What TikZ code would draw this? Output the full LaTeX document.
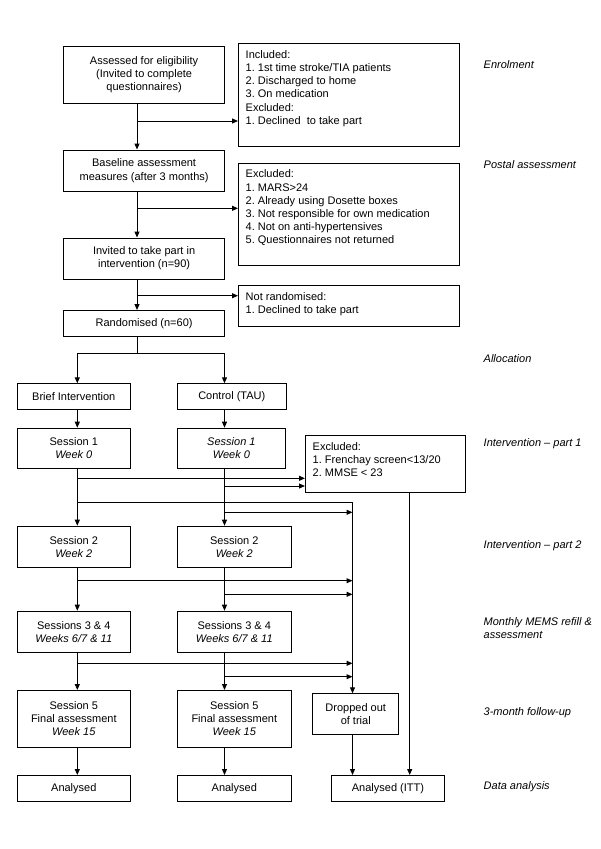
\documentclass[tikz,border=0pt]{standalone}
\usepackage{fontspec}
\setmainfont{Liberation Sans}
\usetikzlibrary{arrows.meta}
\frenchspacing
\begin{document}
\begin{tikzpicture}[x=1pt,y=-1pt,
  every node/.style={font=\fontsize{11}{13.2}\selectfont\frenchspacing},
  box/.style={draw, line width=0.9pt, anchor=north west, inner sep=0pt, align=center},
  listbox/.style={draw, line width=0.9pt, anchor=north west, inner sep=0pt},
  listtext/.style={anchor=north west, inner sep=0pt, align=left, xshift=7.5pt, yshift=-5.8pt},
  stage/.style={anchor=west, inner sep=0pt, align=left, font=\fontsize{11}{13.2}\selectfont\itshape},
  ln/.style={line width=1pt},
  arr/.style={ln, -{Triangle[length=6pt,width=5pt]}},
]
\fill[white] (0,0) rectangle (600,849);
\useasboundingbox (0,0) rectangle (600,849);

% ---------- top part ----------
\node[box, minimum width=160.7pt, minimum height=57pt] (assess) at (63.3,46)
  {Assessed for eligibility\\(Invited to complete\\questionnaires)};
\node[listbox, minimum width=221pt, minimum height=103pt,
  label={[listtext]north west:{\strut Included:\\1. 1st time stroke/TIA patients\\2. Discharged to home\\3. On medication\\Excluded:\\1. Declined\ \ to take part}}] (incl) at (238,43) {};

\node[box, minimum width=160.7pt, minimum height=41.5pt] (base) at (63.3,149.5)
  {Baseline assessment\\measures (after 3 months)};
\node[listbox, minimum width=221pt, minimum height=102.3pt,
  label={[listtext]north west:{\strut Excluded:\\1. MARS>24\\2. Already using Dosette boxes\\3. Not responsible for own medication\\4. Not on anti-hypertensives\\5. Questionnaires not returned}}] (excl1) at (238,162.7) {};

\node[box, minimum width=160.7pt, minimum height=41pt] (invited) at (63.3,237.5)
  {Invited to take part in\\intervention (n=90)};
\node[listbox, minimum width=221pt, minimum height=41pt,
  label={[listtext]north west:{\strut Not randomised:\\1. Declined to take part}}] (notrand) at (238,285) {};

\node[box, minimum width=160.7pt, minimum height=26pt] (rand) at (63.3,310) {Randomised (n=60)};

% ---------- arms ----------
\node[box, minimum width=113.3pt, minimum height=26pt] (brief) at (16.7,383.3) {Brief Intervention};
\node[box, minimum width=109.3pt, minimum height=26pt] (control) at (176.7,383.3) {Control (TAU)};

\node[box, minimum width=113.3pt, minimum height=40.6pt] (s1a) at (16.7,427.7) {Session 1\\\textit{Week 0}};
\node[box, minimum width=108.5pt, minimum height=40.6pt] (s1b) at (176.7,427.7) {\textit{Session 1}\\\textit{Week 0}};
\node[listbox, minimum width=160pt, minimum height=56.7pt,
  label={[listtext]north west:{\strut Excluded:\\1. Frenchay screen<13/20\\2. MMSE < 23}}] (excl2) at (305,435) {};

\node[box, minimum width=113.3pt, minimum height=41.6pt] (s2a) at (16.7,525.7) {Session 2\\\textit{Week 2}};
\node[box, minimum width=114.3pt, minimum height=41.6pt] (s2b) at (176.7,525.7) {Session 2\\\textit{Week 2}};

\node[box, minimum width=113.3pt, minimum height=41.6pt] (s34a) at (16.7,610.7) {Sessions 3 \& 4\\\textit{Weeks 6/7 \& 11}};
\node[box, minimum width=114.3pt, minimum height=41.6pt] (s34b) at (176.7,610.7) {Sessions 3 \& 4\\\textit{Weeks 6/7 \& 11}};

\node[box, minimum width=113.3pt, minimum height=56.7pt] (s5a) at (16.7,690) {Session 5\\Final assessment\\\textit{Week 15}};
\node[box, minimum width=114.3pt, minimum height=56.7pt] (s5b) at (176.7,690) {Session 5\\Final assessment\\\textit{Week 15}};
\node[box, minimum width=86pt, minimum height=41pt] (drop) at (312.3,693.3) {Dropped out\\of trial};

\node[box, minimum width=113.3pt, minimum height=26pt] (ana1) at (16.7,775) {Analysed};
\node[box, minimum width=114.3pt, minimum height=26pt] (ana2) at (176.7,775) {Analysed};
\node[box, minimum width=113.6pt, minimum height=26pt] (ana3) at (330.7,775) {Analysed (ITT)};

% ---------- stage labels ----------
\node[stage] (lab1) at (483.5,65) {Enrolment};
\node[stage] (lab2) at (483.5,165) {Postal assessment};
\node[stage] (lab3) at (483.5,358.3) {Allocation};
\node[stage] (lab4) at (483.5,443.3) {Intervention -- part 1};
\node[stage] (lab5) at (483.5,545.7) {Intervention -- part 2};
\node[stage] (lab6) at (483.5,628.3) {Monthly MEMS refill \&\\assessment};
\node[stage] (lab7) at (483.5,712.7) {3-month follow-up};
\node[stage] (lab8) at (483.5,786.7) {Data analysis};

% ---------- column coordinates ----------
\coordinate (C) at (137,0);
\coordinate (L) at (77.3,0);
\coordinate (R) at (224.5,0);
\coordinate (D) at (352.5,0);
\coordinate (E) at (409.7,0);

% ---------- top connectors ----------
\draw[arr] (assess.south -| C) -- (base.north -| C);
\coordinate (b1) at (137,121);
\draw[arr] (b1) -- (b1 -| incl.west);
\draw[arr] (base.south -| C) -- (invited.north -| C);
\coordinate (b2) at (137,208.3);
\draw[arr] (b2) -- (b2 -| excl1.west);
\draw[arr] (invited.south -| C) -- (rand.north -| C);
\coordinate (b3) at (137,295.7);
\draw[arr] (b3) -- (b3 -| notrand.west);

\coordinate (sp) at (137,353.3);
\draw[ln] (rand.south -| C) -- (sp);
\draw[arr] (sp) -| (brief.north -| L);
\draw[arr] (sp) -| (control.north -| R);

% ---------- arm connectors ----------
\draw[arr] (brief.south -| L) -- (s1a.north -| L);
\draw[arr] (control.south -| R) -- (s1b.north -| R);
\draw[arr] (s1a.south -| L) -- (s2a.north -| L);
\draw[arr] (s1b.south -| R) -- (s2b.north -| R);
\coordinate (a1) at (77.3,478.3);
\draw[arr] (a1) -- (a1 -| excl2.west);
\coordinate (a2) at (224.5,486);
\draw[arr] (a2) -- (a2 -| excl2.west);
\coordinate (a3) at (77.3,502.7);
\draw[arr] (a3) -| (drop.north -| D);
\coordinate (a4) at (224.5,512.3);
\draw[arr] (a4) -- (a4 -| D);

\draw[arr] (s2a.south -| L) -- (s34a.north -| L);
\draw[arr] (s2b.south -| R) -- (s34b.north -| R);
\coordinate (a5) at (77.3,580.7);
\draw[arr] (a5) -- (a5 -| D);
\coordinate (a6) at (224.5,594.3);
\draw[arr] (a6) -- (a6 -| D);

\draw[arr] (s34a.south -| L) -- (s5a.north -| L);
\draw[arr] (s34b.south -| R) -- (s5b.north -| R);
\coordinate (a7) at (77.3,663.3);
\draw[arr] (a7) -- (a7 -| D);
\coordinate (a8) at (224.5,676.7);
\draw[arr] (a8) -- (a8 -| D);

\draw[arr] (s5a.south -| L) -- (ana1.north -| L);
\draw[arr] (s5b.south -| R) -- (ana2.north -| R);
\draw[arr] (drop.south -| D) -- (ana3.north -| D);
\draw[arr] (excl2.south -| E) -- (ana3.north -| E);
\end{tikzpicture}
\end{document}
